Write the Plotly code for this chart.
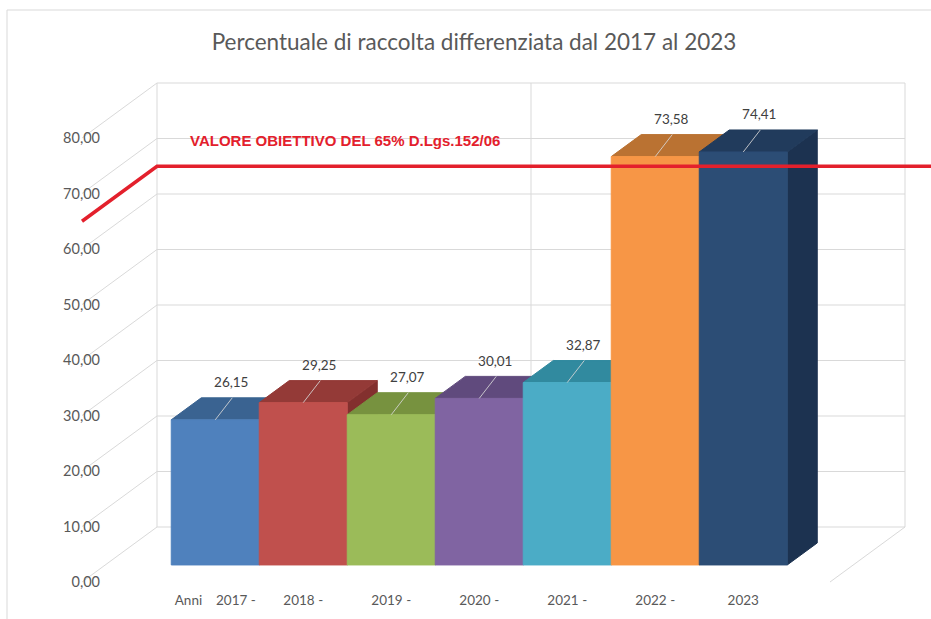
import plotly.graph_objects as go

# ---------------- data ----------------
years = ["2017", "2018", "2019", "2020", "2021", "2022", "2023"]
values = [26.15, 29.25, 27.07, 30.01, 32.87, 73.58, 74.41]
x_tick_labels = ["Anni    2017 -", "2018 -", "2019 -", "2020 -", "2021 -", "2022 -", "2023"]
y_ticks = [0, 10, 20, 30, 40, 50, 60, 70, 80]
target_value = 65
target_label = "VALORE OBIETTIVO DEL 65% D.Lgs.152/06"
title_text = "Percentuale di raccolta differenziata dal 2017 al 2023"

# ---------------- styles ----------------
front_colors = ["#4F81BD", "#C0504D", "#9BBB59", "#8064A2", "#4BACC6", "#F79646", "#2C4D75"]
top_colors = ["#3A6391", "#943A37", "#77923F", "#604A7D", "#318A9F", "#BA7232", "#213B5C"]
side_colors = ["#32567F", "#83302E", "#667E34", "#523F6B", "#2A7589", "#A36329", "#1C3250"]
grid_color = "#D9D9D9"
text_color = "#595959"
label_color = "#404040"
red = "#E3202C"

# ---------------- geometry (oblique 3D projection) ----------------
W, H = 931, 619
PXU = 88.0          # pixels per category unit
PYU = 5.55          # pixels per value unit
X0, Y0 = 82, 582    # pixel position of front-left floor corner
DX = 75 / PXU       # full-depth shift (x units)
DV = 55 / PYU       # full-depth shift (value units)
FLOOR_W = 8.5
BAR_START = 0.75
D_FRONT, D_BACK = 0.31, 0.71
V_TOP = 80

def P(u, v, d):
    return (u + d * DX, v + d * DV)

x_range = [(0 - X0) / PXU, (W - X0) / PXU]
y_range = [(Y0 - H) / PYU, Y0 / PYU]

fig = go.Figure()

def poly(points, fill, line_color=None, width=1):
    xs = [p[0] for p in points] + [points[0][0]]
    ys = [p[1] for p in points] + [points[0][1]]
    fig.add_trace(go.Scatter(x=xs, y=ys, mode="lines", fill="toself", fillcolor=fill,
                             line=dict(color=line_color or fill, width=width),
                             hoverinfo="skip", showlegend=False))

def lines(segments, color, width=1):
    xs, ys = [], []
    for seg in segments:
        for p in seg:
            xs.append(p[0]); ys.append(p[1])
        xs.append(None); ys.append(None)
    fig.add_trace(go.Scatter(x=xs, y=ys, mode="lines", line=dict(color=color, width=width),
                             hoverinfo="skip", showlegend=False))

# back wall gridlines + edges
segs = []
for t in y_ticks:
    segs.append([P(0, t, 1), P(FLOOR_W, t, 1)])
segs.append([P(0, 0, 1), P(0, V_TOP, 1)])
segs.append([P(FLOOR_W, 0, 1), P(FLOOR_W, V_TOP, 1)])
segs.append([P(FLOOR_W / 2, 0, 1), P(FLOOR_W / 2, V_TOP, 1)])
# left wall diagonals
for t in y_ticks:
    segs.append([P(0, t, 0), P(0, t, 1)])
# floor right edge
segs.append([P(FLOOR_W, 0, 0), P(FLOOR_W, 0, 1)])
lines(segs, grid_color, 1)

# bars
for i, v in enumerate(values):
    uL = BAR_START + i
    uR = uL + 1
    poly([P(uR, 0, D_FRONT), P(uR, 0, D_BACK), P(uR, v, D_BACK), P(uR, v, D_FRONT)], side_colors[i])
    poly([P(uL, v, D_FRONT), P(uR, v, D_FRONT), P(uR, v, D_BACK), P(uL, v, D_BACK)], top_colors[i])
    poly([P(uL, 0, D_FRONT), P(uR, 0, D_FRONT), P(uR, v, D_FRONT), P(uL, v, D_FRONT)], front_colors[i])

# leader lines
lsegs = []
for i, v in enumerate(values):
    uc = BAR_START + i + 0.5
    a = P(uc, v, D_FRONT)
    lsegs.append([a, (a[0] + 17 / PXU, a[1] + 22 / PYU)])
lines(lsegs, "rgba(215,215,215,0.85)", 1)

# data labels
lx, ly = [], []
for i, v in enumerate(values):
    uc = BAR_START + i + 0.5
    a = P(uc, v, D_FRONT)
    lx.append(a[0] + 16 / PXU)
    ly.append(a[1] + 36 / PYU)
fig.add_trace(go.Scatter(x=lx, y=ly, mode="text", customdata=values,
                         texttemplate="%{customdata:.2f}", textposition="middle center",
                         textfont=dict(family="Lato", size=13.5, color=label_color),
                         hoverinfo="skip", showlegend=False))

# target line
a = P(0, target_value, 0)
b = P(0, target_value, 1)
fig.add_trace(go.Scatter(x=[a[0], b[0], x_range[1]], y=[a[1], b[1], b[1]], mode="lines",
                         line=dict(color=red, width=3.5), hoverinfo="skip", showlegend=False))
fig.add_annotation(x=b[0] + 31 / PXU, y=b[1] + 26 / PYU, xref="x", yref="y",
                   text="<b>" + target_label + "</b>", showarrow=False,
                   xanchor="left", yanchor="middle",
                   font=dict(family="Liberation Sans, Arial", size=15, color=red))

# tick positions for x labels (bar centers at bar-front depth)
x_tickvals = [P(BAR_START + i + 0.5, 0, D_FRONT)[0] for i in range(len(years))]

fig.update_layout(
    width=W, height=H,
    margin=dict(l=0, r=0, t=0, b=0),
    paper_bgcolor="white", plot_bgcolor="white",
    separators=",.",
    title=dict(text=title_text, x=474 / W, xanchor="center", y=1 - 42 / H, yanchor="middle",
               yref="container", font=dict(family="Lato", size=22.5, color=text_color)),
    xaxis=dict(range=x_range, showgrid=False, zeroline=False, showline=False,
               tickvals=x_tickvals, ticktext=x_tick_labels, ticks="",
               anchor="free", position=1 - 590 / H,
               tickfont=dict(family="Lato", size=13.5, color=text_color), fixedrange=True),
    yaxis=dict(range=y_range, showgrid=False, zeroline=False, showline=False,
               tickvals=y_ticks, tickformat=".2f", ticks="",
               anchor="free", position=100 / W,
               tickfont=dict(family="Lato", size=14.5, color=text_color), fixedrange=True),
    shapes=[dict(type="rect", xref="paper", yref="paper", x0=7 / W, x1=1.02,
                 y0=-0.02, y1=1 - 10 / H, line=dict(color="#D9D9D9", width=1), fillcolor="rgba(0,0,0,0)")],
)

fig.write_html("out.html", config={"displayModeBar": False},
               post_script="document.body.style.margin='0';document.body.style.overflow='hidden';")
